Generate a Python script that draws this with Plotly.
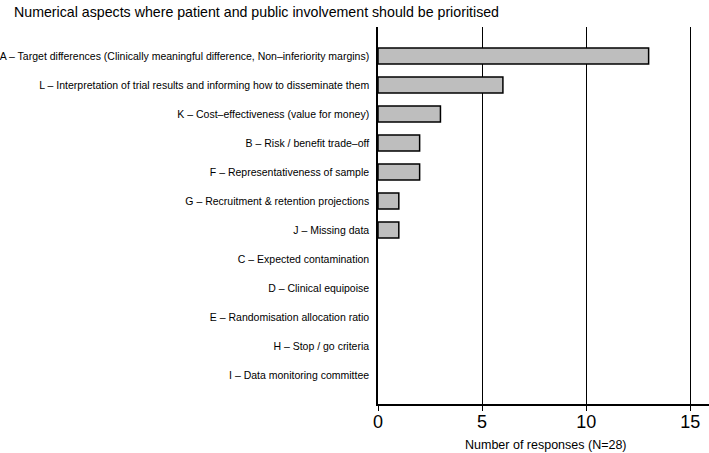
import plotly.graph_objects as go

categories = [
    "A – Target differences (Clinically meaningful difference, Non–inferiority margins)",
    "L – Interpretation of trial results and informing how to disseminate them",
    "K – Cost–effectiveness (value for money)",
    "B – Risk / benefit trade–off",
    "F – Representativeness of sample",
    "G – Recruitment & retention projections",
    "J – Missing data",
    "C – Expected contamination",
    "D – Clinical equipoise",
    "E – Randomisation allocation ratio",
    "H – Stop / go criteria",
    "I – Data monitoring committee",
]
responses = [13, 6, 3, 2, 2, 1, 1, 0, 0, 0, 0, 0]
x_ticks = [0, 5, 10, 15]

cats_bt = categories[::-1]
vals_bt = responses[::-1]

W, H = 709, 453
L, R, T, B = 378, 0, 27, 49
font = "Liberation Sans, Arial, Helvetica, sans-serif"

fig = go.Figure(go.Bar(
    x=vals_bt, y=cats_bt, orientation="h",
    marker=dict(color="#BEBEBE",
                line=dict(color="black", width=[1.5 if v > 0 else 0 for v in vals_bt])),
    width=0.55, hoverinfo="x+y",
))

fig.update_layout(
    width=W, height=H,
    margin=dict(l=L, r=R, t=T, b=B, pad=0, autoexpand=False),
    plot_bgcolor="white", paper_bgcolor="white",
    showlegend=False,
    font=dict(family=font, color="black"),
    title=dict(text="Numerical aspects where patient and public involvement should be prioritised",
               x=14 / W, xanchor="left", xref="container",
               y=1 - 12 / H, yanchor="middle", yref="container",
               font=dict(size=14.2, color="black", family=font)),
    xaxis=dict(range=[0, 15.9], tickvals=x_ticks, ticks="outside", ticklen=5,
               tickcolor="black", tickwidth=1, showline=True, linecolor="black", linewidth=1.5,
               showgrid=True, gridcolor="black", gridwidth=1, zeroline=False,
               tickfont=dict(size=18, color="black"), automargin=False,
               ticklabelstandoff=-4),
    yaxis=dict(categoryorder="array", categoryarray=cats_bt, range=[-1, 12],
               showline=True, linecolor="black", linewidth=1.5, ticks="",
               showgrid=False, zeroline=False, tickfont=dict(size=10.5, color="black"),
               ticklabelstandoff=5, automargin=False),
    annotations=[dict(text="Number of responses (N=28)", xref="paper", yref="paper",
                      x=(546 - L) / (W - L - R), y=(404 - 445) / (H - T - B),
                      xanchor="center", yanchor="middle", showarrow=False,
                      font=dict(size=12.5, color="black", family=font))],
)

fig.write_html("out.html", config={"displayModeBar": False},
               post_script="document.body.style.margin='0';document.body.style.overflow='hidden';")
